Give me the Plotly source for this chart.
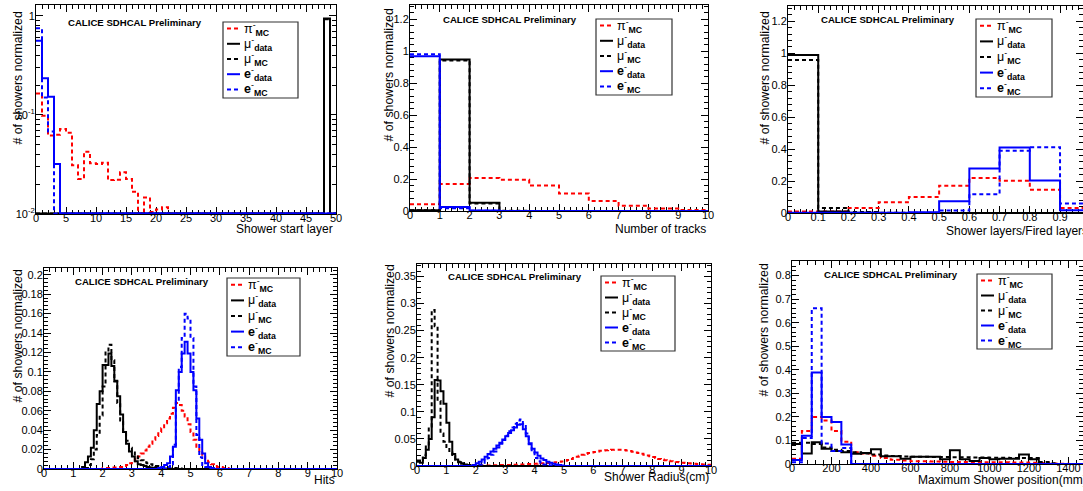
import plotly.graph_objects as go

W, H = 1083, 491
FONT = "Liberation Sans, Arial, Helvetica, sans-serif"

# ---------------- data ----------------
# Panel 1: shower start layer (bins of 1, 0..50), log scale
START_NBINS = 50
START_PI_MC = [0.165, 0.098, 0.062, 0.063, 0.072, 0.066, 0.031, 0.0226, 0.0426, 0.0325,
               0.032, 0.033, 0.022, 0.0222, 0.0264, 0.0226, 0.0168, 0.0, 0.0147, 0.0105,
               0.0111, 0.0117]
START_MU_DATA_FROM, START_MU_DATA = 48, [0.94]
START_MU_MC_FROM, START_MU_MC = 48, [0.925]
START_E_DATA = [0.56, 0.235, 0.153, 0.032]
START_E_MC = [0.75, 0.15, 0.068]

# Panel 2: number of tracks (bins of 1, 0..10)
TRK_PI_MC = [0.042, 0.169, 0.207, 0.196, 0.159, 0.109, 0.063, 0.033, 0.015, 0.006]
TRK_MU_DATA = [0.004, 0.948, 0.052, 0, 0, 0, 0, 0, 0, 0]
TRK_MU_MC = [0.005, 0.942, 0.047, 0.002, 0, 0, 0, 0, 0, 0]
TRK_E_DATA = [0.969, 0.025, 0.003, 0, 0, 0, 0, 0, 0, 0]
TRK_E_MC = [0.981, 0.017, 0.001, 0, 0, 0, 0, 0, 0, 0]

# Panel 3: shower layers / fired layers (bins of 0.1, 0..1)
RAT_PI_MC = [0.01, 0.01, 0.031, 0.067, 0.1, 0.171, 0.219, 0.202, 0.146, 0.031]
RAT_MU_DATA = [0.99, 0.01, 0.002, 0, 0, 0, 0, 0, 0, 0]
RAT_MU_MC = [0.958, 0.031, 0.006, 0.002, 0, 0, 0, 0, 0, 0]
RAT_E_DATA = [0.002, 0.002, 0.002, 0.002, 0.004, 0.073, 0.279, 0.41, 0.204, 0.017]
RAT_E_MC = [0, 0, 0, 0, 0.002, 0.015, 0.117, 0.39, 0.412, 0.06]

# Panel 4: hits (bins of 0.1, 0..10); each series = (first bin low edge, values)
HITS_PI_MC = (2.0, [0.001, 0.001, 0.001, 0.0015, 0.0015, 0.002, 0.002, 0.003, 0.004, 0.006,
                    0.008, 0.010, 0.013, 0.016, 0.019, 0.023, 0.026, 0.030, 0.034, 0.038,
                    0.042, 0.047, 0.052, 0.057, 0.063, 0.068, 0.066, 0.060, 0.054, 0.046,
                    0.038, 0.030, 0.023, 0.017, 0.013, 0.010, 0.007, 0.005, 0.003, 0.002,
                    0.002, 0.001, 0.001])
HITS_MU_DATA = (1.3, [0.002, 0.007, 0.013, 0.022, 0.040, 0.067, 0.080, 0.107, 0.107, 0.119,
                      0.106, 0.091, 0.075, 0.056, 0.038, 0.026, 0.018, 0.013, 0.008, 0.005,
                      0.004, 0.003, 0.002, 0.0015, 0.001, 0.001, 0.001, 0.0005, 0.0005, 0.0005])
HITS_MU_MC = (1.4, [0.001, 0.004, 0.010, 0.020, 0.035, 0.055, 0.085, 0.120, 0.128, 0.112,
                    0.090, 0.068, 0.050, 0.038, 0.029, 0.022, 0.017, 0.013, 0.011, 0.009,
                    0.007, 0.006, 0.005, 0.004, 0.003, 0.002, 0.002, 0.0015, 0.001, 0.001,
                    0.001, 0.0008, 0.0005])
HITS_E_DATA = (3.9, [0.001, 0.002, 0.004, 0.006, 0.013, 0.023, 0.081, 0.100, 0.119, 0.131,
                     0.119, 0.100, 0.081, 0.052, 0.030, 0.016, 0.006, 0.002, 0.001])
HITS_E_MC = (4.2, [0.002, 0.005, 0.025, 0.070, 0.105, 0.135, 0.160, 0.155, 0.135, 0.085,
                   0.035, 0.012, 0.004, 0.002])

# Panel 5: shower radius in cm (bins of 0.1, 0..10)
RAD_PI_MC = (2.0, [0.001, 0.001, 0.001, 0.001, 0.001, 0.0015, 0.0015, 0.0015, 0.002, 0.002,
                   0.002, 0.002, 0.0025, 0.0025, 0.003, 0.003, 0.003, 0.0035, 0.0035, 0.004,
                   0.004, 0.0045, 0.005, 0.005, 0.0055, 0.006, 0.0065, 0.007, 0.0078, 0.0085,
                   0.0095, 0.011, 0.013, 0.015, 0.017, 0.019, 0.021, 0.022, 0.024, 0.025,
                   0.026, 0.027, 0.028, 0.0285, 0.029, 0.0295, 0.030, 0.0302, 0.0302, 0.030,
                   0.0295, 0.0285, 0.0275, 0.0265, 0.025, 0.024, 0.0225, 0.021, 0.0195, 0.018,
                   0.0165, 0.015, 0.013, 0.0118, 0.0105, 0.0098, 0.009, 0.0082, 0.0075, 0.0068,
                   0.0062, 0.0055, 0.005, 0.0045, 0.004, 0.0035, 0.0031, 0.0028, 0.0025, 0.0022])
RAD_MU_DATA = (0.0, [0.010, 0.006, 0.015, 0.030, 0.050, 0.090, 0.159, 0.158, 0.138, 0.115,
                     0.080, 0.045, 0.022, 0.012, 0.007, 0.004, 0.003, 0.002, 0.001])
RAD_MU_MC = (0.0, [0.008, 0.011, 0.020, 0.036, 0.073, 0.288, 0.258, 0.120, 0.060, 0.045,
                   0.035, 0.025, 0.018, 0.012, 0.008, 0.005, 0.003, 0.002, 0.001, 0.001])
RAD_E_DATA = (1.9, [0.002, 0.005, 0.008, 0.012, 0.017, 0.022, 0.027, 0.032, 0.038, 0.043,
                    0.049, 0.055, 0.061, 0.066, 0.071, 0.076, 0.077, 0.068, 0.055, 0.042,
                    0.032, 0.025, 0.019, 0.014, 0.011, 0.008, 0.006, 0.004, 0.003, 0.002,
                    0.001])
RAD_E_MC = (2.1, [0.003, 0.006, 0.010, 0.015, 0.021, 0.027, 0.034, 0.041, 0.048, 0.056,
                  0.064, 0.071, 0.078, 0.084, 0.086, 0.078, 0.060, 0.040, 0.025, 0.015,
                  0.009, 0.005, 0.003, 0.002, 0.001])

# Panel 6: maximum shower position in mm (bins of 50, 0..1500)
POS_PI_MC = [0.022, 0.14, 0.2, 0.185, 0.14, 0.095, 0.05, 0.045, 0.035, 0.025,
             0.018, 0.015, 0.012, 0.012, 0.011, 0.010, 0.009, 0.008, 0.008, 0.007,
             0.007, 0.007, 0.006, 0.006, 0.005, 0.004, 0.002, 0.001, 0, 0]
POS_MU_DATA = [0.085, 0.045, 0.092, 0.065, 0.055, 0.05, 0.044, 0.047, 0.063, 0.033,
               0.033, 0.022, 0.031, 0.031, 0.031, 0.02, 0.058, 0.02, 0.013, 0.025,
               0.02, 0.022, 0.022, 0.04, 0.02, 0, 0, 0, 0, 0]
POS_MU_MC = [0.09, 0.09, 0.085, 0.07, 0.06, 0.055, 0.05, 0.045, 0.04, 0.036,
             0.034, 0.032, 0.031, 0.031, 0.030, 0.030, 0.029, 0.029, 0.028, 0.028,
             0.027, 0.027, 0.026, 0.026, 0.025, 0.008, 0.003, 0, 0, 0]
POS_E_DATA = [0.017, 0.12, 0.389, 0.2, 0.178, 0.083] + [0] * 24
POS_E_MC = [0.007, 0.11, 0.661, 0.087, 0.055, 0.068] + [0] * 24

X_TITLES = ["Shower start layer", "Number of tracks", "Shower layers/Fired layers",
            "Hits", "Shower Radius(cm)", "Maximum Shower position(mm)"]
Y_TITLE = "# of showers normalized"
LABEL = "<b>CALICE SDHCAL Preliminary</b>"
LEGEND_LABELS = ["π<sup>-</sup><sub><b>MC</b></sub>",
                 "μ<sup>-</sup><sub><b>data</b></sub>",
                 "μ<sup>-</sup><sub><b>MC</b></sub>",
                 "<b>e</b><sup>-</sup><sub><b>data</b></sub>",
                 "<b>e</b><sup>-</sup><sub><b>MC</b></sub>"]

# ---------------- styling ----------------
RED, BLACK, BLUE = "#ff0000", "#000000", "#0000ff"
DASH = "4px,3px"
STYLES = [(RED, DASH), (BLACK, "solid"), (BLACK, DASH), (BLUE, "solid"), (BLUE, DASH)]
TICK_SIZE, XTITLE_SIZE, YTITLE_SIZE, LABEL_SIZE, LEG_SIZE = 11, 12, 12.3, 9.6, 12.5


def X(px):
    return px / W


def Y(py):
    return 1 - py / H


def edges(lo, w, n):
    return [round(lo + i * w, 6) for i in range(n + 1)]


def pad(vals, n, start_bin=0):
    arr = [0.0] * n
    for i, v in enumerate(vals):
        if 0 <= start_bin + i < n:
            arr[start_bin + i] = v
    return arr


def padx(series, w, n):
    lo, vals = series
    return pad(vals, n, int(round(lo / w)))


panels = []
n = START_NBINS
panels.append(dict(
    box=(36, 5, 336, 214), edges=edges(0, 1, n),
    series=[pad(START_PI_MC, n), pad(START_MU_DATA, n, START_MU_DATA_FROM),
            pad(START_MU_MC, n, START_MU_MC_FROM), pad(START_E_DATA, n), pad(START_E_MC, n)],
    xrange=[0, 50], xdtick=5, xminor=1, log=True, yrange=[-2, 0.11],
    xt=(335, 229), yt=(17, 10), lab=(66, 22), leg=(223, 22, 298, 98)))
panels.append(dict(
    box=(410, 5, 708, 211), edges=edges(0, 1, 10),
    series=[TRK_PI_MC, TRK_MU_DATA, TRK_MU_MC, TRK_E_DATA, TRK_E_MC],
    xrange=[0, 10], xdtick=1, xminor=0.2, yrange=[0, 1.29], ydtick=0.2, yminor=0.04,
    xt=(708, 229), yt=(388, 7), lab=(441, 20), leg=(596, 19, 672, 95)))
panels.append(dict(
    box=(788, 6, 1083, 213), edges=edges(0, 0.1, 10),
    series=[RAT_PI_MC, RAT_MU_DATA, RAT_MU_MC, RAT_E_DATA, RAT_E_MC],
    xrange=[0, 0.976], xdtick=0.1, xminor=0.02, yrange=[0, 1.296], ydtick=0.2, yminor=0.04,
    xt=(1090, 231), yt=(764, 10), lab=(819, 20), leg=(976, 19, 1052, 97)))
n = 100
panels.append(dict(
    box=(44, 268, 337, 469), edges=edges(0, 0.1, n),
    series=[padx(s, 0.1, n) for s in (HITS_PI_MC, HITS_MU_DATA, HITS_MU_MC, HITS_E_DATA, HITS_E_MC)],
    xrange=[0, 10], xdtick=1, xminor=0.2, yrange=[0, 0.207], ydtick=0.02, yminor=0.004,
    xt=(337, 480), yt=(17, 268), lab=(73, 281), leg=(227, 278, 300, 356)))
panels.append(dict(
    box=(417, 264, 711, 466), edges=edges(0, 0.1, n),
    series=[padx(s, 0.1, n) for s in (RAD_PI_MC, RAD_MU_DATA, RAD_MU_MC, RAD_E_DATA, RAD_E_MC)],
    xrange=[0, 10], xdtick=1, xminor=0.2, yrange=[0, 0.373], ydtick=0.05, yminor=0.01,
    xt=(711, 477), yt=(389, 263), lab=(446, 276), leg=(601, 276, 675, 351)))
panels.append(dict(
    box=(792, 261, 1083, 464), edges=edges(0, 50, 30),
    series=[POS_PI_MC, POS_MU_DATA, POS_MU_MC, POS_E_DATA, POS_E_MC],
    xrange=[0, 1474], xdtick=200, xminor=40, yrange=[0, 0.862], ydtick=0.1, yminor=0.02,
    xt=(1089, 480), yt=(763, 262), lab=(822, 274), leg=(977, 274, 1052, 349)))

fig = go.Figure()
layout = dict(width=W, height=H, margin=dict(l=0, r=0, t=0, b=0, pad=0, autoexpand=False),
              paper_bgcolor="white", plot_bgcolor="white", showlegend=False,
              font=dict(family=FONT, color="black"))
annotations, shapes = [], []

common_axis = dict(ticks="inside", ticklen=7, tickwidth=1, tickcolor="black",
                   showline=True, linecolor="black", linewidth=1, mirror="ticks",
                   showgrid=False, zeroline=False, fixedrange=True, layer="below traces",
                   automargin=False,
                   tickfont=dict(family=FONT, size=TICK_SIZE, color="black"))

for k, p in enumerate(panels):
    idx = "" if k == 0 else str(k + 1)
    x0, y0, x1, y1 = p["box"]
    xa = dict(common_axis, domain=[X(x0), X(x1)], range=p["xrange"], tick0=0, dtick=p["xdtick"],
              minor=dict(ticks="inside", ticklen=4, tickcolor="black", tick0=0, dtick=p["xminor"]),
              anchor="y" + idx, ticklabelstandoff=-6)
    if p.get("log"):
        minor_vals = [m * 10 ** e for e in (-2, -1) for m in range(2, 10)]
        ya = dict(common_axis, domain=[Y(y1), Y(y0)], type="log", range=p["yrange"],
                  tickmode="array", tickvals=[0.01, 0.1, 1],
                  ticktext=["10<sup>-2</sup>", "10<sup>-1</sup>", "1"],
                  minor=dict(ticks="inside", ticklen=4, tickcolor="black", tickmode="array",
                             tickvals=minor_vals),
                  anchor="x" + idx, ticklabelstandoff=-2)
    else:
        ya = dict(common_axis, domain=[Y(y1), Y(y0)], range=p["yrange"], tick0=0,
                  dtick=p["ydtick"],
                  minor=dict(ticks="inside", ticklen=4, tickcolor="black", tick0=0,
                             dtick=p["yminor"]),
                  anchor="x" + idx, ticklabelstandoff=-2)
    layout["xaxis" + idx] = xa
    layout["yaxis" + idx] = ya

    for vals, (col, dash) in zip(p["series"], STYLES):
        yv = [max(v, 0.0101) for v in vals] if p.get("log") else list(vals)
        fig.add_trace(go.Scatter(x=p["edges"], y=yv + [yv[-1]], mode="lines",
                                 line=dict(color=col, width=2, dash=dash, shape="hv"),
                                 xaxis="x" + idx, yaxis="y" + idx, hoverinfo="skip"))

    xtx, xty = p["xt"]
    annotations.append(dict(x=X(xtx), y=Y(xty), xref="paper", yref="paper", xanchor="right",
                            yanchor="middle", text=X_TITLES[k], showarrow=False,
                            font=dict(family=FONT, size=XTITLE_SIZE, color="black")))
    ytx, yty = p["yt"]
    annotations.append(dict(x=X(ytx), y=Y(yty), xref="paper", yref="paper", xanchor="center",
                            yanchor="top", text=Y_TITLE, textangle=-90, showarrow=False,
                            font=dict(family=FONT, size=YTITLE_SIZE, color="black")))
    lx, ly = p["lab"]
    annotations.append(dict(x=X(lx), y=Y(ly), xref="paper", yref="paper", xanchor="left",
                            yanchor="middle", text=LABEL, showarrow=False,
                            font=dict(family=FONT, size=LABEL_SIZE, color="black")))
    bx0, by0, bx1, by1 = p["leg"]
    shapes.append(dict(type="rect", xref="paper", yref="paper", x0=X(bx0), x1=X(bx1),
                       y0=Y(by1), y1=Y(by0), line=dict(color="#333333", width=1.2),
                       fillcolor="white", layer="above"))
    step = (by1 - by0) / 5.0
    for i, (lab, (col, dash)) in enumerate(zip(LEGEND_LABELS, STYLES)):
        yy = by0 + step * (i + 0.5) - 1
        shapes.append(dict(type="line", xref="paper", yref="paper", x0=X(bx0 + 4),
                           x1=X(bx0 + 17), y0=Y(yy), y1=Y(yy),
                           line=dict(color=col, width=2, dash=dash), layer="above"))
        annotations.append(dict(x=X(bx0 + 19), y=Y(yy), xref="paper", yref="paper",
                                xanchor="left", yanchor="middle", text=lab, showarrow=False,
                                font=dict(family=FONT, size=LEG_SIZE, color="black")))

layout["annotations"] = annotations
layout["shapes"] = shapes
fig.update_layout(**layout)
fig.write_html("out.html", config={"displayModeBar": False, "staticPlot": True},
               post_script="document.body.style.margin='0px';"
                           "document.body.style.overflow='hidden';")
